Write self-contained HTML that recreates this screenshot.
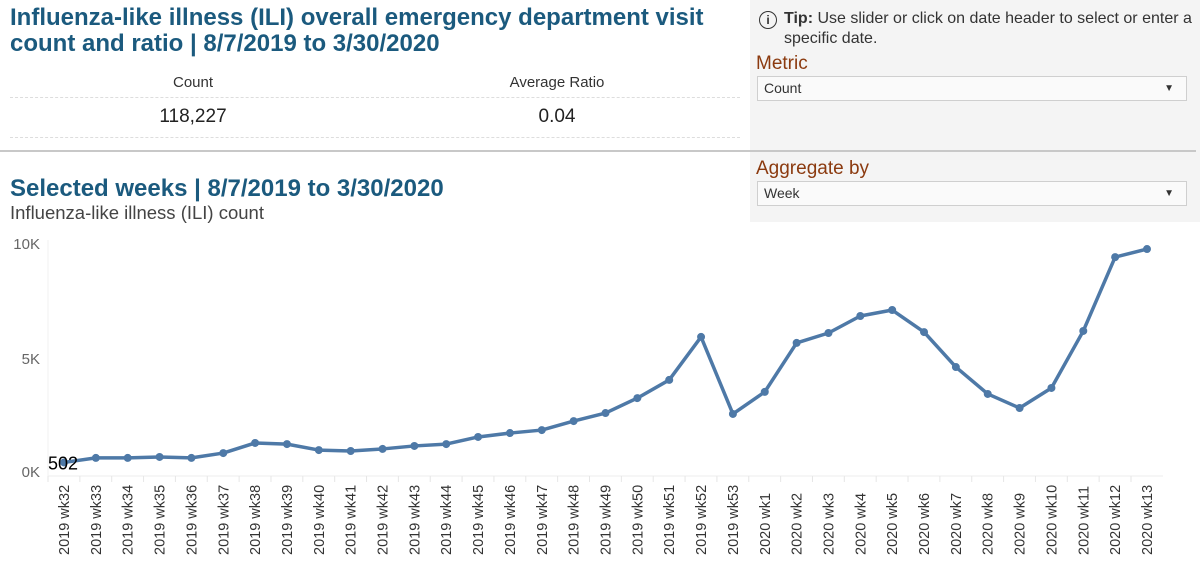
<!DOCTYPE html>
<html><head><meta charset="utf-8"><style>
body{margin:0;width:1200px;height:563px;overflow:hidden;background:#fff;font-family:"Liberation Sans",Arial,sans-serif;position:relative}
.abs{position:absolute}
.title{color:#1b5a7e;font-weight:bold;font-size:24px;line-height:26px}
.panel{left:750px;top:0;width:450px;height:222px;background:#f4f4f4}
.lbl{color:#8b3a0f;font-size:19px}
.sel{background:#fafafa;border:1px solid #cfcfcf;font-size:14px;color:#333;padding:0 6px;box-sizing:border-box;height:25px;line-height:23px}
.sel span{position:absolute;right:12px;top:0;font-size:10px}
</style></head><body>
<div class="abs panel"></div>
<div class="abs title" style="left:10px;top:5px;width:725px">Influenza-like illness (ILI) overall emergency department visit count and ratio | 8/7/2019 to 3/30/2020</div>
<div class="abs" style="left:758px;top:9px;width:442px;font-size:16px;color:#333;line-height:20px;padding-left:26px;box-sizing:border-box"><span class="abs" style="left:1px;top:2px;width:16px;height:16px;border:1.5px solid #333;border-radius:50%;font-size:12px;line-height:16px;text-align:center;font-weight:bold">i</span><b>Tip:</b> Use slider or click on date header to select or enter a specific date.</div>
<div class="abs lbl" style="left:756px;top:53px">Metric</div>
<div class="abs sel" style="left:757px;top:76px;width:430px">Count<span>▼</span></div>
<div class="abs lbl" style="left:756px;top:158px">Aggregate by</div>
<div class="abs sel" style="left:757px;top:181px;width:430px">Week<span>▼</span></div>
<div class="abs" style="left:0;top:150px;width:1196px;height:2px;background:#c8c8c8"></div>
<div class="abs" style="left:10px;top:97px;width:730px;border-top:1px dashed #ddd"></div>
<div class="abs" style="left:10px;top:137px;width:730px;border-top:1px dashed #ddd"></div>
<div class="abs" style="left:93px;top:74px;width:200px;text-align:center;font-size:15px;color:#333">Count</div>
<div class="abs" style="left:457px;top:74px;width:200px;text-align:center;font-size:15px;color:#333">Average Ratio</div>
<div class="abs" style="left:93px;top:106px;width:200px;text-align:center;font-size:19px;color:#222">118,227</div>
<div class="abs" style="left:457px;top:106px;width:200px;text-align:center;font-size:19px;color:#222">0.04</div>
<div class="abs title" style="left:10px;top:176px">Selected weeks | 8/7/2019 to 3/30/2020</div>
<div class="abs" style="left:10px;top:202px;font-size:18.5px;color:#444">Influenza-like illness (ILI) count</div>
<svg class="abs" style="left:0;top:0" width="1200" height="563" id="chart"></svg>
<script>
const weeks=["2019 wk32","2019 wk33","2019 wk34","2019 wk35","2019 wk36","2019 wk37","2019 wk38","2019 wk39","2019 wk40","2019 wk41","2019 wk42","2019 wk43","2019 wk44","2019 wk45","2019 wk46","2019 wk47","2019 wk48","2019 wk49","2019 wk50","2019 wk51","2019 wk52","2019 wk53","2020 wk1","2020 wk2","2020 wk3","2020 wk4","2020 wk5","2020 wk6","2020 wk7","2020 wk8","2020 wk9","2020 wk10","2020 wk11","2020 wk12","2020 wk13"];
const counts=[502,700,700,740,700,910,1350,1300,1040,1000,1090,1220,1300,1610,1780,1910,2300,2650,3300,4090,5960,2610,3570,5700,6130,6870,7130,6170,4650,3480,2870,3740,6220,9430,9780];
const yTicks=[0,5000,10000];
const yTickLabels=["0K","5K","10K"];
const NS="http://www.w3.org/2000/svg",svg=document.getElementById('chart');
const x=i=>64+i*(1147-64)/(weeks.length-1);
const y=v=>474-v*0.023;
function mk(t,a,p){const e=document.createElementNS(NS,t);for(const k in a)e.setAttribute(k,a[k]);(p||svg).appendChild(e);return e;}
let e=mk('line',{x1:48,x2:1163,y1:476,y2:476,stroke:'#eee'});


e=mk('line',{x1:48,x2:48,y1:240,y2:476,stroke:'#f2f2f2'});


yTicks.forEach((v,i)=>{const t=mk('text',{x:40,y:y(v)+(i==0?-2:0)+5,'text-anchor':'end','font-size':15,fill:'#666'});t.textContent=yTickLabels[i];

});
weeks.forEach((w,i)=>{const cx=x(i);
const l=mk('line',{x1:cx-16,x2:cx-16,y1:476,y2:482,stroke:'#e6e6e6'});


const t=mk('text',{x:0,y:0,transform:`translate(${cx+5},555) rotate(-90)`,'font-size':14.5,fill:'#333'});t.textContent=w;

});
const p=mk('polyline',{points:counts.map((v,i)=>x(i)+','+y(v)).join(' '),fill:'none',stroke:'#4e79a7','stroke-width':3.5,'stroke-linejoin':'round'});


counts.forEach((v,i)=>{const c=mk('circle',{cx:x(i),cy:y(v),r:4,fill:'#4e79a7'});

});
const lab=mk('text',{x:x(0)-16,y:y(counts[0])+7,'font-size':18,fill:'#000'});lab.textContent=counts[0];


</script>
</body></html>
